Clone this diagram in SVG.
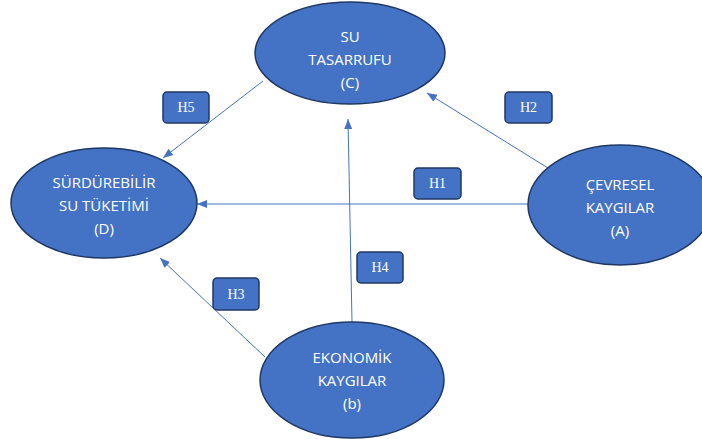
<svg xmlns="http://www.w3.org/2000/svg" width="702" height="444" viewBox="0 0 702 444">
<defs>
<style>
.node{fill:#4472C4;stroke:#1F3864;stroke-width:1.5}
.lbl{fill:#FFFFFF;font-family:"Open Sans","Liberation Sans",sans-serif;font-size:15px;text-anchor:middle}
.hbox{fill:#4472C4;stroke:#1F3864;stroke-width:1.5}
.hlbl{fill:#FFFFFF;font-family:"Liberation Serif",serif;font-size:14px;text-anchor:middle}
.conn{stroke:#4472C4;stroke-width:1;fill:none;marker-end:url(#ah)}
</style>
<marker id="ah" viewBox="0 0 10 10" refX="10" refY="5" markerWidth="10" markerHeight="10" markerUnits="userSpaceOnUse" orient="auto">
<path d="M0,1 L10,5 L0,9 Z" fill="#4472C4"/>
</marker>
</defs>
<rect width="702" height="444" fill="#FFFFFF"/>
<g id="connectors">
<line class="conn" x1="263" y1="81" x2="163" y2="158"/>
<line class="conn" x1="548" y1="168" x2="427" y2="93"/>
<line class="conn" x1="528" y1="204" x2="197" y2="204"/>
<line class="conn" x1="265" y1="357" x2="160" y2="258"/>
<line class="conn" x1="352" y1="322" x2="348" y2="119"/>
</g>
<g id="node-C">
<ellipse class="node" cx="350" cy="53" rx="95" ry="51"/>
<text class="lbl" x="350" y="42">SU</text>
<text class="lbl" x="350" y="65">TASARRUFU</text>
<text class="lbl" x="350" y="88">(C)</text>
</g>
<g id="node-D">
<ellipse class="node" cx="104" cy="203" rx="93" ry="55"/>
<text class="lbl" x="104" y="188">SÜRDÜREBİLİR</text>
<text class="lbl" x="104" y="211">SU TÜKETİMİ</text>
<text class="lbl" x="104" y="234">(D)</text>
</g>
<g id="node-A">
<ellipse class="node" cx="620" cy="205" rx="92" ry="60"/>
<text class="lbl" x="620" y="190">ÇEVRESEL</text>
<text class="lbl" x="620" y="213">KAYGILAR</text>
<text class="lbl" x="620" y="236">(A)</text>
</g>
<g id="node-B">
<ellipse class="node" cx="352" cy="380" rx="92" ry="58"/>
<text class="lbl" x="352" y="363">EKONOMİK</text>
<text class="lbl" x="352" y="386">KAYGILAR</text>
<text class="lbl" x="352" y="409">(b)</text>
</g>
<g id="H5">
<rect class="hbox" x="163" y="92" width="46" height="31" rx="4"/>
<text class="hlbl" x="186" y="112">H5</text>
</g>
<g id="H2">
<rect class="hbox" x="505" y="92" width="47" height="31" rx="4"/>
<text class="hlbl" x="528.5" y="112">H2</text>
</g>
<g id="H1">
<rect class="hbox" x="414" y="168" width="47" height="31" rx="4"/>
<text class="hlbl" x="437.5" y="188">H1</text>
</g>
<g id="H3">
<rect class="hbox" x="213" y="278" width="46" height="32" rx="4"/>
<text class="hlbl" x="236" y="299">H3</text>
</g>
<g id="H4">
<rect class="hbox" x="357" y="252" width="46" height="31" rx="4"/>
<text class="hlbl" x="380" y="272">H4</text>
</g>
</svg>
